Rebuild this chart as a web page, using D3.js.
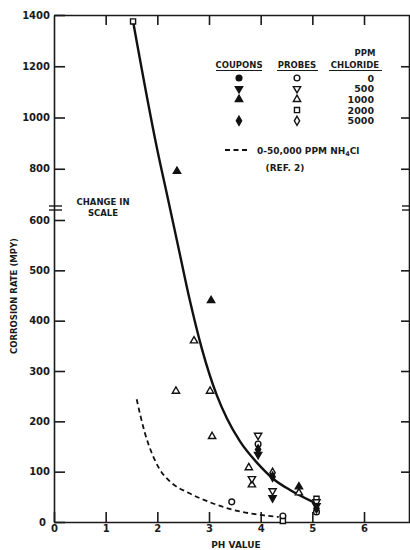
<!DOCTYPE html>
<html>
<head>
<meta charset="utf-8">
<script src="https://cdn.jsdelivr.net/npm/d3@7"></script>
<style>
  body { margin: 0; background: #fff; }
  svg text { font-family: "DejaVu Sans", sans-serif; font-weight: bold; fill: #1a1a1a; }
  .axis path, .axis line { stroke: #1a1a1a; stroke-width: 1.6; }
  .axis text { font-size: 10px; }
</style>
</head>
<body>
<div id="chart"></div>
<script>
// chloride levels (ppm) -> marker shape, same index
var chloride = ["0", "500", "1000", "2000", "5000"];

// probes (open markers)
var probePH   = [1.53, 2.71, 2.36, 3.02, 3.06, 3.77, 3.83, 3.83, 3.95, 3.95, 3.44, 4.23, 4.23, 4.43, 4.43, 4.74, 5.08, 5.08, 5.08];
var probeRate = [1375, 360,  260,  260,  170,  108,  74,   86,   172,  155,  40,   98,   62,   12,   2,    58,   46,   40,   20];
var probeCl   = [3,    2,    2,    2,    2,    2,    2,    1,    1,    0,    0,    4,    1,    0,    3,    2,    3,    1,    0];

// coupons (filled markers)
var couponPH   = [2.38, 3.04, 4.74, 3.95, 3.95, 4.23, 4.23, 5.08, 5.08];
var couponRate = [790,  440,  70,   144,  134,  90,   48,   32,   27];
var couponCl   = [2,    2,    2,    4,    1,    4,    1,    1,    4];

// fitted curve through the data
var curvePH   = [1.53, 2.0, 2.21, 2.44, 2.63, 2.86, 3.15, 3.35, 3.6, 3.98, 4.24, 4.56, 5.05];
var curveRate = [1375, 873, 678,  530,  440,  345,  252,  205,  160, 112,  86,   64,   38];

// dashed curve, 0-50,000 ppm NH4Cl (ref. 2)
var refPH   = [1.6, 1.75, 1.9, 2.05, 2.25, 2.6, 3.0, 3.4, 4.0, 4.35];
var refRate = [244, 180,  135, 104,  80,   58,  40,  26,  14,  10];

var xTicks = [0, 1, 2, 3, 4, 5, 6],
    yTicks = [0, 100, 200, 300, 400, 500, 600, 800, 1000, 1200, 1400];

var width = 410, height = 550;

var x = d3.scaleLinear()
    .domain([0, 6.89])
    .range([54, 410]);

// change in scale at 600
var y = d3.scaleLinear()
    .domain([0, 600, 1400])
    .range([522, 220, 15]);

var svg = d3.select("#chart").append("svg")
    .attr("width", width)
    .attr("height", height);

// axes
svg.append("g").attr("class", "axis")
    .attr("transform", "translate(54,0)")
    .call(d3.axisLeft(y).tickValues(yTicks).tickFormat(d3.format("d"))
        .tickSizeInner(-11).tickSizeOuter(0).tickPadding(4))
  .selectAll("text")
    .attr("x", function(d) { return d == 0 ? -8 : -4; });

svg.append("g").attr("class", "axis")
    .attr("transform", "translate(409,0)")
    .call(d3.axisRight(y).tickValues(yTicks.filter(function(d) { return d > 0 && d < 1400 && d != 600; }))
        .tickSizeInner(-8).tickSizeOuter(0).tickFormat(""));

svg.append("g").attr("class", "axis")
    .attr("transform", "translate(0,522)")
    .call(d3.axisBottom(x).tickValues(xTicks).tickFormat(d3.format("d"))
        .tickSizeInner(-10).tickSizeOuter(0).tickPadding(3));

svg.append("g").attr("class", "axis")
    .attr("transform", "translate(0,15)")
    .call(d3.axisTop(x).tickValues(xTicks.slice(1)).tickSizeInner(-10).tickSizeOuter(0).tickFormat(""));

// break marks
var breaks = [[49, 62], [402, 410]];
breaks.forEach(function(b) {
    [206, 210].forEach(function(yy) {
        svg.append("line")
            .attr("x1", b[0]).attr("x2", b[1])
            .attr("y1", yy).attr("y2", yy)
            .attr("stroke", "#1a1a1a").attr("stroke-width", 1.4);
    });
});

svg.append("text").attr("x", 103).attr("y", 205).attr("text-anchor", "middle")
    .style("font-size", "8.5px").text("CHANGE IN");
svg.append("text").attr("x", 103).attr("y", 216).attr("text-anchor", "middle")
    .style("font-size", "8.5px").text("SCALE");

// axis titles
svg.append("text").attr("x", 236).attr("y", 548).attr("text-anchor", "middle")
    .style("font-size", "9px").text("PH VALUE");
svg.append("text")
    .attr("transform", "translate(17,296) rotate(-90)")
    .attr("text-anchor", "middle")
    .style("font-size", "8.5px").text("CORROSION RATE (MPY)");

// curves
var line = d3.line()
    .x(function(d) { return x(d[0]); })
    .y(function(d) { return y(d[1]); })
    .curve(d3.curveMonotoneX);

svg.append("path")
    .datum(d3.zip(curvePH, curveRate))
    .attr("d", line)
    .attr("fill", "none").attr("stroke", "#111").attr("stroke-width", 2.4);

svg.append("path")
    .datum(d3.zip(refPH, refRate))
    .attr("d", line)
    .attr("fill", "none").attr("stroke", "#111").attr("stroke-width", 1.8)
    .attr("stroke-dasharray", "5,3.5");

// markers
var shapes = [d3.symbolCircle, d3.symbolTriangle, d3.symbolTriangle, d3.symbolSquare, d3.symbolDiamond],
    sizes = [26, 23, 23, 26, 24],
    turn = [0, 180, 0, 0, 0];

function marker(sel, cl, filled) {
    sel.attr("d", function(d) { return d3.symbol().type(shapes[cl(d)]).size(sizes[cl(d)])(); })
        .attr("fill", filled ? "#111" : "#fff")
        .attr("stroke", "#111")
        .attr("stroke-width", 1.4);
}

svg.append("g").selectAll("path")
    .data(d3.range(probePH.length))
  .enter().append("path")
    .attr("transform", function(i) { return "translate(" + x(probePH[i]) + "," + y(probeRate[i]) + ") rotate(" + turn[probeCl[i]] + ")"; })
    .call(marker, function(i) { return probeCl[i]; }, false);

svg.append("g").selectAll("path")
    .data(d3.range(couponPH.length))
  .enter().append("path")
    .attr("transform", function(i) { return "translate(" + x(couponPH[i]) + "," + y(couponRate[i]) + ") rotate(" + turn[couponCl[i]] + ")"; })
    .call(marker, function(i) { return couponCl[i]; }, true);

// legend
var legend = svg.append("g").style("font-size", "8.5px");

legend.append("text").attr("x", 239).attr("y", 68).attr("text-anchor", "middle").text("COUPONS");
legend.append("text").attr("x", 297).attr("y", 68).attr("text-anchor", "middle").text("PROBES");
legend.append("text").attr("x", 365).attr("y", 56).attr("text-anchor", "middle").text("PPM");
legend.append("text").attr("x", 355).attr("y", 68).attr("text-anchor", "middle").text("CHLORIDE");

var underlines = [[216, 262], [277, 318], [329, 382]];
underlines.forEach(function(u) {
    legend.append("line").attr("x1", u[0]).attr("x2", u[1]).attr("y1", 70.5).attr("y2", 70.5)
        .attr("stroke", "#1a1a1a").attr("stroke-width", 1);
});

chloride.forEach(function(c, i) {
    var ly = 78 + i * 10.7;
    legend.append("text").attr("x", 374).attr("y", ly + 3.5).attr("text-anchor", "end")
        .style("font-size", "9.5px").text(c);
    legend.append("path")
        .attr("transform", "translate(297," + ly + ") rotate(" + turn[i] + ")")
        .datum(i).call(marker, function(d) { return d; }, false);
    if (i != 3) {
        legend.append("path")
            .attr("transform", "translate(239," + ly + ") rotate(" + turn[i] + ")")
            .datum(i).call(marker, function(d) { return d; }, true);
    }
});

legend.append("line").attr("x1", 225).attr("x2", 249).attr("y1", 150).attr("y2", 150)
    .attr("stroke", "#111").attr("stroke-width", 1.8).attr("stroke-dasharray", "5,3.5");
var nh = legend.append("text").attr("x", 257).attr("y", 153.5).style("font-size", "9px");
nh.append("tspan").text("0-50,000  PPM  NH");
nh.append("tspan").attr("dy", 2).style("font-size", "6.5px").text("4");
nh.append("tspan").attr("dy", -2).text("Cl");
legend.append("text").attr("x", 285).attr("y", 171).attr("text-anchor", "middle")
    .style("font-size", "9px").text("(REF. 2)");
</script>
</body>
</html>
